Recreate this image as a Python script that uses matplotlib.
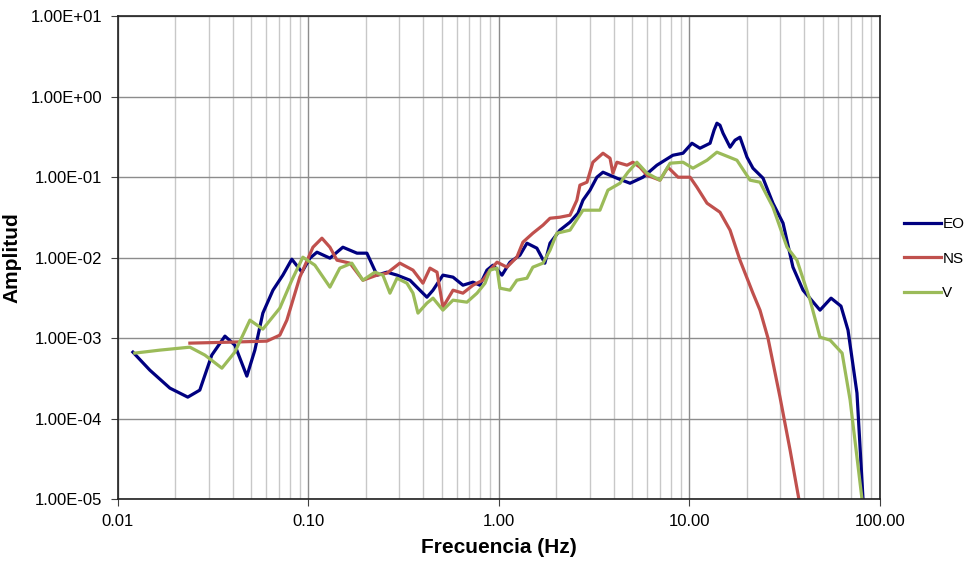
import numpy as np
import matplotlib.pyplot as plt
from matplotlib.ticker import FixedLocator, FixedFormatter, LogLocator, NullFormatter

plt.rcParams['font.family'] = ['Liberation Sans', 'DejaVu Sans']

# Espectros de amplitud (log10 de frecuencia en Hz, log10 de amplitud)
eo_logf = [-1.921, -1.832, -1.727, -1.633, -1.570, -1.507, -1.438, -1.386, -1.323, -1.281,
           -1.239, -1.186, -1.134, -1.087, -1.034, -0.992, -0.955, -0.887, -0.819, -0.745,
           -0.693, -0.640, -0.588, -0.535, -0.467, -0.415, -0.378, -0.346, -0.294, -0.241,
           -0.189, -0.136, -0.100, -0.063, -0.031, 0.016, 0.058, 0.110, 0.147, 0.199,
           0.241, 0.268, 0.320, 0.373, 0.415, 0.441, 0.478, 0.514, 0.546, 0.619,
           0.688, 0.756, 0.829, 0.913, 0.966, 1.013, 1.055, 1.108, 1.129, 1.144,
           1.160, 1.176, 1.213, 1.239, 1.265, 1.302, 1.333, 1.386, 1.438, 1.491,
           1.543, 1.596, 1.685, 1.743, 1.795, 1.832, 1.879, 1.911]
eo_loga = [-3.174, -3.398, -3.621, -3.733, -3.646, -3.211, -2.975, -3.087, -3.472, -3.149,
           -2.689, -2.404, -2.217, -2.019, -2.180, -2.006, -1.932, -2.006, -1.870, -1.944,
           -1.944, -2.217, -2.180, -2.217, -2.280, -2.404, -2.491, -2.404, -2.217, -2.242,
           -2.342, -2.304, -2.342, -2.155, -2.093, -2.217, -2.056, -1.969, -1.820, -1.882,
           -2.068, -1.820, -1.658, -1.559, -1.447, -1.286, -1.161, -1.000, -0.938, -1.012,
           -1.075, -1.000, -0.851, -0.727, -0.702, -0.578, -0.640, -0.578, -0.416, -0.329,
           -0.354, -0.453, -0.627, -0.540, -0.503, -0.752, -0.888, -1.012, -1.323, -1.571,
           -2.118, -2.404, -2.652, -2.503, -2.602, -2.901, -3.683, -5.012]

ns_logf = [-1.622, -1.412, -1.218, -1.150, -1.113, -1.045, -0.976, -0.929, -0.887, -0.850,
           -0.782, -0.714, -0.640, -0.588, -0.520, -0.451, -0.399, -0.362, -0.325, -0.294,
           -0.241, -0.189, -0.136, -0.084, -0.047, -0.010, 0.042, 0.094, 0.126, 0.178,
           0.231, 0.268, 0.320, 0.373, 0.409, 0.425, 0.462, 0.493, 0.546, 0.583,
           0.598, 0.619, 0.672, 0.703, 0.740, 0.777, 0.845, 0.887, 0.940, 1.003,
           1.039, 1.092, 1.160, 1.213, 1.265, 1.333, 1.370, 1.412, 1.475, 1.528, 1.575]
ns_loga = [-3.062, -3.050, -3.037, -2.963, -2.776, -2.242, -1.870, -1.758, -1.870, -2.031,
           -2.068, -2.280, -2.217, -2.193, -2.068, -2.155, -2.317, -2.130, -2.180, -2.615,
           -2.404, -2.441, -2.342, -2.280, -2.155, -2.056, -2.118, -1.994, -1.807, -1.696,
           -1.596, -1.510, -1.497, -1.472, -1.286, -1.099, -1.062, -0.814, -0.702, -0.764,
           -0.950, -0.814, -0.851, -0.814, -0.876, -0.975, -1.037, -0.876, -1.000, -1.000,
           -1.124, -1.323, -1.435, -1.658, -2.031, -2.441, -2.652, -3.000, -3.733, -4.391, -5.012]

v_logf = [-1.911, -1.780, -1.622, -1.543, -1.454, -1.386, -1.307, -1.239, -1.150, -1.087,
          -1.029, -0.966, -0.887, -0.835, -0.772, -0.714, -0.651, -0.609, -0.572, -0.535,
          -0.483, -0.451, -0.425, -0.378, -0.346, -0.294, -0.241, -0.168, -0.115, -0.073,
          -0.047, -0.010, 0.005, 0.058, 0.094, 0.147, 0.178, 0.231, 0.268, 0.304,
          0.373, 0.441, 0.530, 0.572, 0.635, 0.677, 0.724, 0.777, 0.845, 0.898,
          0.966, 1.018, 1.092, 1.144, 1.249, 1.318, 1.370, 1.438, 1.512, 1.564,
          1.633, 1.685, 1.738, 1.801, 1.843, 1.906]
v_loga = [-3.186, -3.149, -3.112, -3.211, -3.373, -3.174, -2.776, -2.888, -2.627, -2.280,
          -1.994, -2.093, -2.366, -2.130, -2.068, -2.280, -2.180, -2.217, -2.441, -2.255,
          -2.317, -2.441, -2.689, -2.565, -2.503, -2.652, -2.528, -2.553, -2.441, -2.317,
          -2.155, -2.130, -2.379, -2.404, -2.280, -2.255, -2.118, -2.068, -1.907, -1.696,
          -1.658, -1.410, -1.410, -1.161, -1.075, -0.938, -0.814, -0.950, -1.037, -0.826,
          -0.814, -0.888, -0.789, -0.689, -0.789, -1.037, -1.062, -1.373, -1.870, -2.031,
          -2.528, -2.988, -3.025, -3.186, -3.770, -5.012]

x_ticks = [0.01, 0.1, 1, 10, 100]
x_labels = ['0.01', '0.10', '1.00', '10.00', '100.00']
y_ticks = [1e-5, 1e-4, 1e-3, 1e-2, 1e-1, 1e0, 1e1]
y_labels = ['1.00E-05', '1.00E-04', '1.00E-03', '1.00E-02', '1.00E-01', '1.00E+00', '1.00E+01']

fig = plt.figure(figsize=(9.66, 5.81), dpi=100)
ax = fig.add_axes([0.122, 0.141, 0.789, 0.831])

ax.plot(10 ** np.array(eo_logf), 10 ** np.array(eo_loga), color='#000080', lw=2.3, label='EO')
ax.plot(10 ** np.array(ns_logf), 10 ** np.array(ns_loga), color='#C0504D', lw=2.3, label='NS')
ax.plot(10 ** np.array(v_logf), 10 ** np.array(v_loga), color='#9BBB59', lw=2.3, label='V')

ax.set_xscale('log')
ax.set_yscale('log')
ax.set_xlim(0.01, 100)
ax.set_ylim(1e-5, 1e1)

ax.xaxis.set_major_locator(FixedLocator(x_ticks))
ax.xaxis.set_major_formatter(FixedFormatter(x_labels))
ax.xaxis.set_minor_locator(LogLocator(base=10, subs=np.arange(2, 10)))
ax.xaxis.set_minor_formatter(NullFormatter())
ax.yaxis.set_major_locator(FixedLocator(y_ticks))
ax.yaxis.set_major_formatter(FixedFormatter(y_labels))
ax.yaxis.set_minor_locator(FixedLocator([]))

ax.grid(True, which='major', color='#8c8c8c', lw=1.0)
ax.grid(True, which='minor', axis='x', color='#c8c8c8', lw=1.0)
ax.set_axisbelow(True)

ax.tick_params(axis='both', which='major', labelsize=12, length=5, color='#404040', pad=6)
ax.tick_params(axis='x', which='minor', length=0)
for s in ax.spines.values():
    s.set_color('#202020')
    s.set_linewidth(1.2)

ax.set_xlabel('Frecuencia (Hz)', fontsize=15, fontweight='bold', labelpad=6)
ax.set_ylabel('Amplitud', fontsize=15, fontweight='bold')
ax.yaxis.set_label_coords(-0.126, 0.5)

leg = fig.legend(loc='center left', bbox_to_anchor=(0.928, 0.555), frameon=False,
                 fontsize=11, handlelength=2.4, handletextpad=0.1, labelspacing=1.35,
                 borderpad=0)

fig.savefig('out.png', dpi=100)
